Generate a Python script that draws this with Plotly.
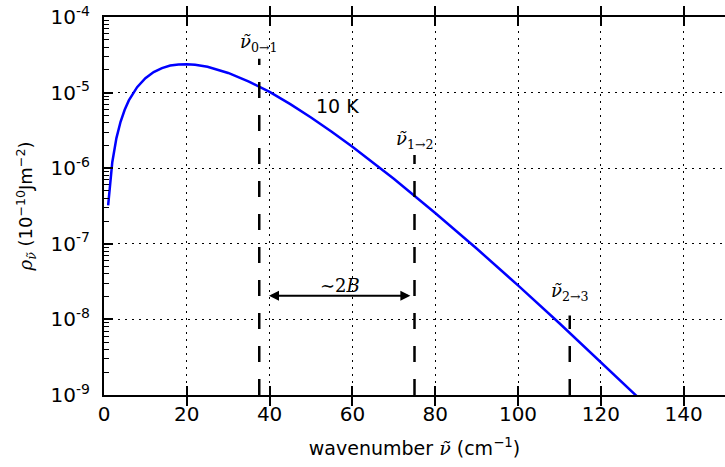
import plotly.graph_objects as go
import math

# Curve (wavenumber cm^-1, energy density in 1e-10 J m^-2)
nu = [1, 2, 3, 4, 5, 6, 8, 10, 12, 14, 16, 18, 20, 22, 25, 30, 35, 40, 45, 50,
      55, 60, 70, 80, 90, 100, 110, 120, 130]
rho = [3.23e-7, 1.20e-6, 2.50e-6, 4.11e-6, 5.93e-6, 7.87e-6, 1.18e-5, 1.55e-5,
       1.87e-5, 2.11e-5, 2.28e-5, 2.36e-5, 2.38e-5, 2.34e-5, 2.20e-5, 1.82e-5,
       1.40e-5, 1.02e-5, 7.03e-6, 4.69e-6, 3.04e-6, 1.92e-6, 7.24e-7, 2.56e-7,
       8.66e-8, 2.82e-8, 8.90e-9, 2.74e-9, 8.26e-10]

# Transition markers
trans_x = [37.5, 75.0, 112.5]
trans_top = [2.8e-5, 1.5e-6, 1.13e-8]
trans_labels = ["0→1", "1→2", "2→3"]
label_y = [4.6e-5, 2.35e-6, 2.3e-8]
y_bottom = 1e-9

arrow_x = [39.5, 74.0]
arrow_y = 2.05e-8
arrow_label = "∼2<i>B</i>"
arrow_label_pos = (57, 2.85e-8)
temp_label = "10 K"
temp_pos = (56.4, 6.6e-6)

ytick_vals = [1e-9, 1e-8, 1e-7, 1e-6, 1e-5, 1e-4]
ytick_text = ["10<sup>-9</sup>", "10<sup>-8</sup>", "10<sup>-7</sup>",
              "10<sup>-6</sup>", "10<sup>-5</sup>", "10<sup>-4</sup>"]
xtick_vals = [0, 20, 40, 60, 80, 100, 120, 140]
minor_mult = [2, 3, 4, 5, 6, 7, 8, 9]
minor_vals = [m * 10.0 ** e for e in range(-9, -4) for m in minor_mult]

SANS = "DejaVu Sans"
SERIF = "DejaVu Serif"
NU = "<i>ν̃</i>"

fig = go.Figure()
fig.add_trace(go.Scatter(x=nu, y=rho, mode="lines",
                         line=dict(color="#0000ff", width=2.5),
                         showlegend=False, hoverinfo="skip"))

for xv, top in zip(trans_x, trans_top):
    fig.add_trace(go.Scatter(x=[xv, xv], y=[y_bottom, top], mode="lines",
                             line=dict(color="black", width=2.5, dash="16px,17px"),
                             showlegend=False, hoverinfo="skip"))

# invisible trace to activate the minor-tick axis
fig.add_trace(go.Scatter(x=[None], y=[None], yaxis="y2", showlegend=False, hoverinfo="skip"))

for xv, ly, lab in zip(trans_x, label_y, trans_labels):
    fig.add_annotation(x=xv, y=math.log10(ly), text=NU + "<sub>" + lab + "</sub>",
                       showarrow=False, font=dict(family=SERIF, size=18, color="black"))

fig.add_annotation(x=arrow_x[1], y=math.log10(arrow_y), ax=arrow_x[0], ay=math.log10(arrow_y),
                   xref="x", yref="y", axref="x", ayref="y", text="",
                   showarrow=True, arrowhead=2, startarrowhead=2, arrowside="end+start",
                   arrowsize=1, arrowwidth=2, arrowcolor="black")
fig.add_annotation(x=arrow_label_pos[0], y=math.log10(arrow_label_pos[1]), text=arrow_label,
                   showarrow=False, font=dict(family=SERIF, size=18, color="black"))
fig.add_annotation(x=temp_pos[0], y=math.log10(temp_pos[1]), text=temp_label,
                   showarrow=False, font=dict(family=SANS, size=19, color="black"))

fig.update_layout(
    width=725, height=467,
    margin=dict(l=104, r=0, t=17, b=72),
    paper_bgcolor="white", plot_bgcolor="white",
    font=dict(family=SANS, size=18, color="black"),
    xaxis=dict(range=[0, 150], tickvals=xtick_vals, ticks="inside", ticklen=9,
               tickwidth=1.5, tickcolor="black", showline=True, linewidth=2,
               linecolor="black", mirror="allticks", showgrid=True,
               gridcolor="black", gridwidth=1, griddash="2px,5px", zeroline=False,
               tickfont=dict(size=20),
               title=dict(text="wavenumber <span style=\"font-family:DejaVu Serif\">" + NU + "</span> (cm<sup>−1</sup>)",
                          standoff=17, font=dict(size=19))),
    yaxis=dict(type="log", range=[-9, -4], tickmode="array", tickvals=ytick_vals,
               ticktext=ytick_text, ticks="inside", ticklen=9, tickwidth=1.5,
               tickcolor="black", showline=True, linewidth=2, linecolor="black",
               mirror=False, showgrid=True, gridcolor="black", gridwidth=1,
               griddash="2px,5px", zeroline=False, tickfont=dict(size=20),
               ticklabelstandoff=8,
               title=dict(text="<span style=\"font-family:DejaVu Serif\"><i>ρ</i><sub>" + NU + "</sub></span> (10<sup>−10</sup>Jm<sup>−2</sup>)",
                          standoff=13, font=dict(size=18))),
    yaxis2=dict(type="log", range=[-9, -4], overlaying="y", side="left",
                anchor="x", tickmode="array", tickvals=minor_vals,
                showticklabels=False, ticks="inside", ticklen=5, tickwidth=1,
                tickcolor="black", showgrid=False, zeroline=False, showline=False),
)

fig.write_html("out.html")
